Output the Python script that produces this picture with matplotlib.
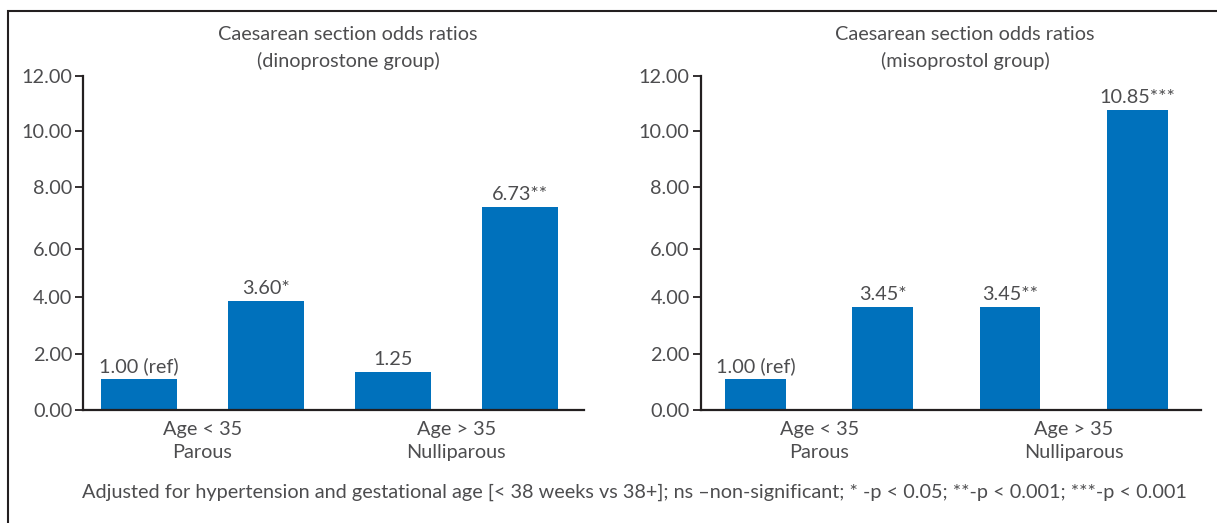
import matplotlib.pyplot as plt
from matplotlib.patches import Rectangle

plt.rcParams['font.family'] = ['Lato', 'DejaVu Sans']

# bar heights as drawn in the figure, with the printed labels
groups = ['Age < 35\nParous', 'Age > 35\nNulliparous']
dino_heights = [1.11, 3.92, 1.36, 7.29]
dino_labels = ['1.00 (ref)', '3.60*', '1.25', '6.73**']
miso_heights = [1.11, 3.70, 3.70, 10.77]
miso_labels = ['1.00 (ref)', '3.45*', '3.45**', '10.85***']
# tick marks as placed in the original (not quite evenly spaced)
ytick_pos = [0, 2, 4.05, 5.78, 8, 10, 12]
ytick_labels = ['0.00', '2.00', '4.00', '6.00', '8.00', '10.00', '12.00']

titles = ['Caesarean section odds ratios\n(dinoprostone group)',
          'Caesarean section odds ratios\n(misoprostol group)']
footnote = ('Adjusted for hypertension and gestational age [< 38 weeks vs 38+]; '
            'ns \u2013non-significant; * -p < 0.05; **-p < 0.001; ***-p < 0.001')

blue = '#0071bc'
text_c = '#4d4d4f'
line_c = '#231f20'
fs = 14.3

W, H = 1217, 523
fig = plt.figure(figsize=(W / 100, H / 100), dpi=100)

panels = [
    dict(rect=[83.3 / W, 1 - 410 / H, 500.7 / W, 334.3 / H], xlim=(-0.437, 3.505),
         width=0.596, heights=dino_heights, labels=dino_labels, title=titles[0], tx=348),
    dict(rect=[700.7 / W, 1 - 410 / H, 500.3 / W, 334.3 / H], xlim=(-0.43, 3.50),
         width=0.477, heights=miso_heights, labels=miso_labels, title=titles[1], tx=965),
]

for p in panels:
    ax = fig.add_axes(p['rect'])
    x = range(len(p['heights']))
    bars = ax.bar(x, p['heights'], width=p['width'], color=blue, zorder=2)
    for b, lab in zip(bars, p['labels']):
        ax.annotate(lab, (b.get_x() + b.get_width() / 2, b.get_height()),
                    xytext=(0, 3), textcoords='offset points', ha='center', va='bottom',
                    fontsize=fs, color=text_c)
    ax.set_xlim(*p['xlim'])
    ax.set_ylim(0, 12)
    ax.set_yticks(ytick_pos)
    ax.set_yticklabels(ytick_labels)
    ax.set_xticks([0.5, 2.5])
    ax.set_xticklabels(groups, linespacing=1.45)
    ax.tick_params(axis='y', length=6, width=1.3, color=line_c, labelsize=fs,
                   labelcolor=text_c, pad=2)
    ax.tick_params(axis='x', length=0, labelsize=fs, labelcolor=text_c, pad=8)
    for s in ['top', 'right']:
        ax.spines[s].set_visible(False)
    for s in ['left', 'bottom']:
        ax.spines[s].set_color(line_c)
        ax.spines[s].set_linewidth(1.6)
    fig.text(p['tx'] / W, 1 - 48 / H, p['title'], ha='center', va='center',
             fontsize=fs, color=text_c, linespacing=1.55)

fig.text(634 / W, 1 - 492 / H, footnote, ha='center', va='center',
         fontsize=fs, color=text_c)

fig.patches.append(Rectangle((8 / W, -0.02), 1.1, 1.02 - 11 / H, transform=fig.transFigure,
                             fill=False, edgecolor=line_c, linewidth=1.5))

fig.savefig('out.png', dpi=100)
